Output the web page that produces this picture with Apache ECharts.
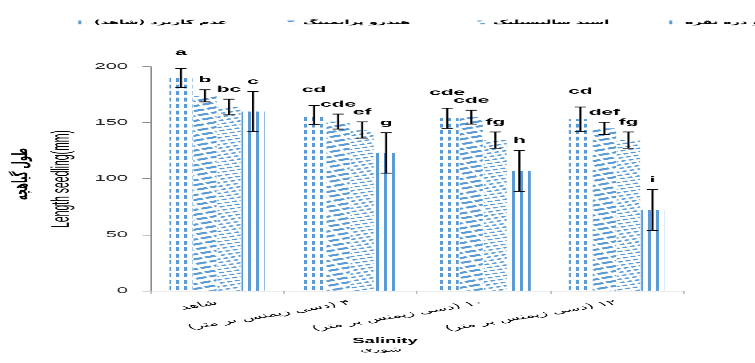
<!DOCTYPE html>
<html>
<head>
<meta charset="utf-8">
<script src="https://cdn.jsdelivr.net/npm/echarts@6/dist/echarts.min.js"></script>
<style>
  html, body { margin: 0; padding: 0; background: #fff; overflow: hidden; width: 755px; height: 363px; }
  /* the chart is laid out on a 472x558 canvas and stretched to fill the page */
  #chart { width: 472px; height: 558px; transform: scale(1.59958, 0.65054); transform-origin: 0 0; }
</style>
</head>
<body>
<div id="chart"></div>
<script>
// Salinity levels
const categories = ['شاهد', '۴ (دسی زیمنس بر متر)', '۱۰ (دسی زیمنس بر متر)', '۱۲ (دسی زیمنس بر متر)'];
// Seed treatments
const seriesNames = ['عدم کاربرد (شاهد)', 'هیدرو پرایمینگ', 'اسید سالیسیلیک', 'نانو ذره نقره'];

// Seedling length (mm)
const controlValues    = [190, 157, 154, 153];
const hydroValues      = [174, 151, 155, 145];
const salicylicValues  = [164, 143.5, 134.5, 134.5];
const nanoSilverValues = [160, 123, 107, 72];

// Error bar half-widths (mm)
const controlErrors    = [8.5, 8.5, 9, 11];
const hydroErrors      = [5.4, 6.7, 6.2, 5.5];
const salicylicErrors  = [7, 7.2, 7.2, 7.2];
const nanoSilverErrors = [18, 18, 18.3, 18.2];

// Mean comparison letters
const controlLetters    = ['a', 'cd', 'cde', 'cd'];
const hydroLetters      = ['b', 'cde', 'cde', 'def'];
const salicylicLetters  = ['bc', 'ef', 'fg', 'fg'];
const nanoSilverLetters = ['c', 'g', 'h', 'i'];

// Value axis ticks
const yTicks = [0, 50, 100, 150, 200];

const valueSets  = [controlValues, hydroValues, salicylicValues, nanoSilverValues];
const errorSets  = [controlErrors, hydroErrors, salicylicErrors, nanoSilverErrors];
const letterSets = [controlLetters, hydroLetters, salicylicLetters, nanoSilverLetters];

// right-to-left embedding so Persian labels keep their reading order
const rtl = s => '\u202B' + s + '\u202C';

const BLUE = '#5b9bd5';
const CAT_GAP = 0.285;
const BAR_GAP = 0.04;

// Fill patterns for the four treatments
const decals = [
  { symbol: 'rect', symbolSize: 1, color: BLUE, dashArrayX: [1.45, 2.6], dashArrayY: [5.1, 3.1], rotation: 0 },
  { symbol: 'rect', symbolSize: 1, color: BLUE, dashArrayX: [7, 1.2], dashArrayY: [2.8, 3.2], rotation: -0.4 },
  { symbol: 'rect', symbolSize: 1, color: BLUE, dashArrayX: [3, 1.3], dashArrayY: [1.6, 3.0], rotation: -0.35 },
  { symbol: 'rect', symbolSize: 1, color: BLUE, dashArrayX: [1.6, 2.4], dashArrayY: [10, 0], rotation: 0 }
];

const legendLefts = [43.8, 174.4, 293.2, 413.2];

const barSeries = valueSets.map((vals, k) => ({
  type: 'bar',
  name: seriesNames[k],
  data: vals,
  barCategoryGap: (CAT_GAP * 100) + '%',
  barGap: (BAR_GAP * 100) + '%',
  itemStyle: { color: '#ffffff', decal: decals[k] },
  silent: true
}));

const errorData = [];
valueSets.forEach((vals, k) => {
  vals.forEach((v, i) => errorData.push([i, k, v, errorSets[k][i]]));
});

function renderError(params, api) {
  const i = api.value(0), k = api.value(1), v = api.value(2), e = api.value(3);
  const band = api.size([1, 0])[0];
  const groupW = band * (1 - CAT_GAP);
  const w = groupW / (4 + 3 * BAR_GAP);
  const base = api.coord([i, 0]);
  const cx = base[0] - groupW / 2 + w / 2 + k * w * (1 + BAR_GAP);
  const yTop = api.coord([i, v + e])[1];
  const yBot = api.coord([i, v - e])[1];
  const cap = 3.5;
  const st = { stroke: '#000', lineWidth: 1.3 };
  const off = k === 0 ? 24 : 15;
  return {
    type: 'group',
    children: [
      { type: 'line', shape: { x1: cx, y1: yTop, x2: cx, y2: yBot }, style: st },
      { type: 'line', shape: { x1: cx - cap, y1: yTop, x2: cx + cap, y2: yTop }, style: st },
      { type: 'line', shape: { x1: cx - cap, y1: yBot, x2: cx + cap, y2: yBot }, style: st },
      { type: 'text', x: cx, y: yTop - off,
        style: { text: letterSets[k][i], fill: '#000', fontSize: 13, fontWeight: 'bold',
                 fontFamily: 'Liberation Sans', align: 'center', verticalAlign: 'middle' } }
    ]
  };
}

const chart = echarts.init(document.getElementById('chart'), null, { renderer: 'canvas', devicePixelRatio: 2 });

chart.setOption({
  animation: false,
  backgroundColor: '#ffffff',
  grid: { left: 94, right: 45, top: 102.5, bottom: 111.1, containLabel: false },
  legend: seriesNames.map((name, k) => ({
    data: [name],
    left: legendLefts[k],
    top: 25,
    icon: 'rect',
    itemWidth: 5,
    itemHeight: 6,
    selectedMode: false,
    formatter: n => rtl(n),
    textStyle: { fontSize: 9, fontWeight: 'bold', fontFamily: 'DejaVu Sans', color: '#000' }
  })),
  xAxis: {
    type: 'category',
    data: categories,
    axisLine: { show: true, lineStyle: { color: '#d0d0d0', width: 1 } },
    axisTick: { show: true, length: 5, lineStyle: { color: '#bfbfbf' } },
    axisLabel: { interval: 0, rotate: 21, margin: 18, fontSize: 11, fontFamily: 'DejaVu Sans', color: '#000',
                 formatter: v => rtl(v) },
    splitLine: { show: false }
  },
  yAxis: {
    type: 'value',
    min: yTicks[0],
    max: yTicks[yTicks.length - 1],
    interval: yTicks[1] - yTicks[0],
    axisLine: { show: true, lineStyle: { color: '#8c8c8c', width: 1 } },
    axisTick: { show: true, length: 5, lineStyle: { color: '#8c8c8c' } },
    axisLabel: { margin: 14, fontSize: 12.5, fontFamily: 'Liberation Sans', color: '#262626' },
    splitLine: { show: false }
  },
  series: barSeries.concat([{
    type: 'custom',
    name: 'errors',
    data: errorData,
    dimensions: ['cat', 'treatment', 'value', 'err'],
    encode: { x: 'cat', y: 'value' },
    renderItem: renderError,
    z: 5,
    silent: true
  }]),
  graphic: [
    { type: 'text', x: 13.75, y: 267.5, rotation: Math.PI / 2,
      style: { text: rtl('طول گیاهچه'), fontSize: 13, fontWeight: 'bold', fontFamily: 'DejaVu Sans',
               fill: '#000', align: 'center', verticalAlign: 'middle' } },
    { type: 'text', x: 38.8, y: 275.2, rotation: Math.PI / 2,
      style: { text: 'Length seedling(mm)', fontSize: 16, fontFamily: 'Liberation Sans',
               fill: '#000', align: 'center', verticalAlign: 'middle' } },
    { type: 'text', x: 240.7, y: 524.2,
      style: { text: 'Salinity', fontSize: 11.5, fontWeight: 'bold', fontFamily: 'Liberation Sans',
               fill: '#000', align: 'center', verticalAlign: 'middle' } },
    { type: 'text', x: 238.2, y: 538,
      style: { text: rtl('شوری'), fontSize: 10, fontFamily: 'DejaVu Sans',
               fill: '#000', align: 'center', verticalAlign: 'middle' } }
  ]
});
</script>
</body>
</html>
